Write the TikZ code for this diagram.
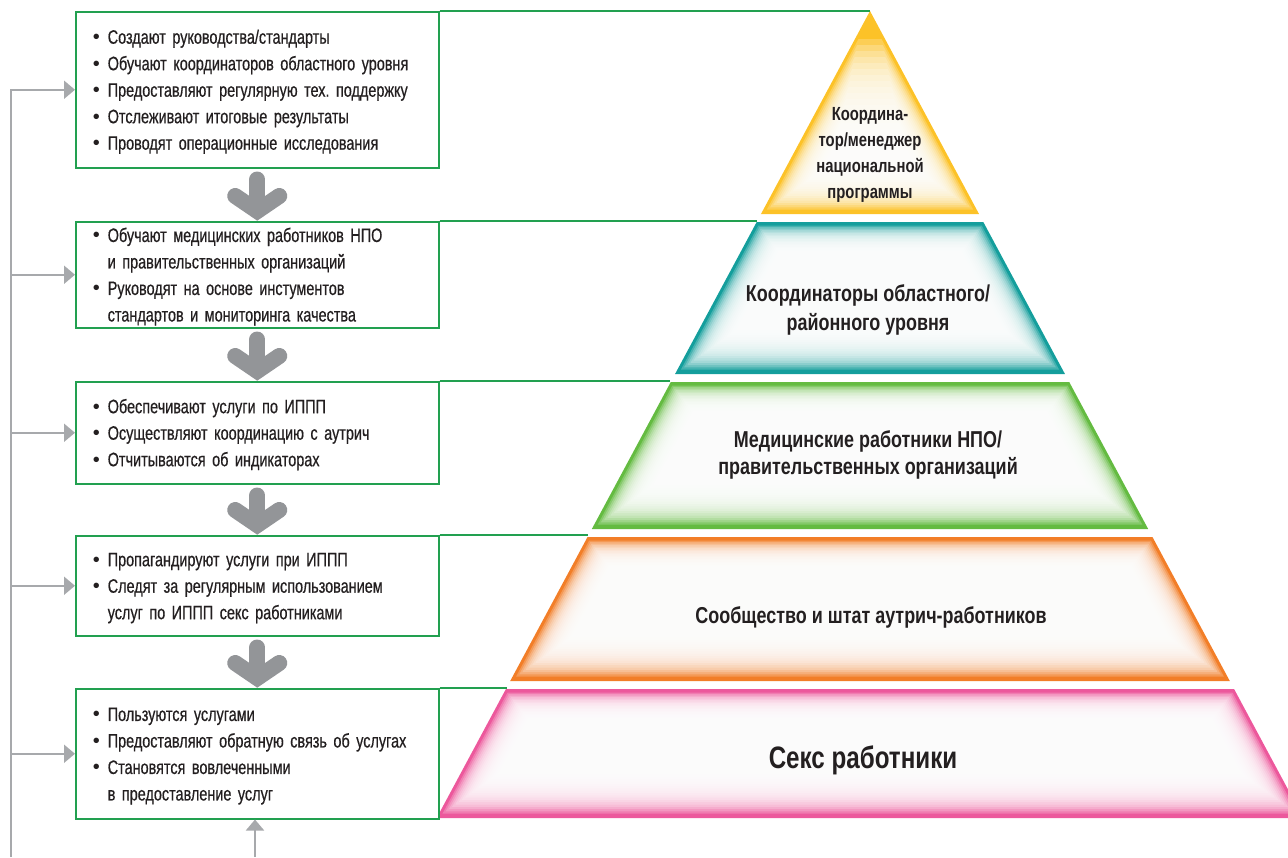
\documentclass[tikz,border=0pt]{standalone}
\usepackage{fontspec}
\setmainfont{Liberation Sans}
\newfontfamily\condr[FakeStretch=0.74,FakeBold=0.5]{Liberation Sans}
\newfontfamily\condb[FakeStretch=0.78]{Liberation Sans}
\usetikzlibrary{arrows.meta,calc}
\frenchspacing
\definecolor{yellowT}{RGB}{252,194,40}
\definecolor{tealT}{RGB}{20,158,156}
\definecolor{greenT}{RGB}{100,187,65}
\definecolor{orangeT}{RGB}{242,126,40}
\definecolor{pinkT}{RGB}{236,88,156}
\definecolor{boxgreen}{RGB}{34,160,80}
\definecolor{arrowgray}{RGB}{147,149,152}
\definecolor{linegray}{RGB}{167,169,172}
\definecolor{txt}{RGB}{35,31,32}
\newcommand\bitem[1]{\hangindent=15pt\hangafter=1\noindent\makebox[15pt][l]{{\normalfont\fontsize{20}{20}\selectfont\textbullet}}#1\par}
\newcommand\bitemf[1]{\hangindent=15pt\hangafter=1\noindent\rule{0pt}{18pt}\makebox[15pt][l]{{\normalfont\fontsize{20}{20}\selectfont\textbullet}}#1\par}
% tier: top y, bottom y, colour, top offset, top step
\newcommand\tier[5]{%
  \fill[#3] ({870-0.537*(#1-11)},#1) -- ({870+0.537*(#1-11)},#1) -- ({870+0.537*(#2-11)},#2) -- ({870-0.537*(#2-11)},#2) -- cycle;
  \foreach \i in {1,...,18}{%
    \pgfmathsetmacro\sx{1.5+2.0*\i}%
    \pgfmathsetmacro\ta{#1+#4+#5*\i}%
    \pgfmathsetmacro\bb{#2-2-2.3*\i}%
    \fill[white,opacity=0.21] ({870-0.537*(\ta-11)+\sx},\ta) -- ({870+0.537*(\ta-11)-\sx},\ta) -- ({870+0.537*(\bb-11)-\sx},\bb) -- ({870-0.537*(\bb-11)+\sx},\bb) -- cycle;
  }}
\tikzset{
  box/.style={draw=boxgreen, line width=1.5pt, fill=white, anchor=north west, inner xsep=17pt, inner ysep=0pt,
    text width=329pt, align=left, text=txt, font=\condr\fontsize{19.5}{26.5}\selectfont\frenchspacing},
  tierlabel/.style={align=center, text=txt, font=\condb\bfseries\fontsize{23}{29}\selectfont},
  gline/.style={draw=boxgreen, line width=1.5pt},
  fat/.style={draw=arrowgray, line width=16pt, line cap=round},
  fatv/.style={draw=arrowgray, line width=16pt, line cap=round, line join=miter},
  fb/.style={draw=linegray, line width=2pt, -{Triangle[length=11pt,width=18pt]}},
}
\begin{document}
\begin{tikzpicture}[x=1pt,y=-1pt]
\useasboundingbox (0,0) rectangle (1288,857);
% pyramid
\begin{scope}
\clip (0,0) rectangle (1288,857);
\tier{11}{214}{yellowT}{22}{6}
\tier{222}{374}{tealT}{2}{1.5}
\tier{382}{529}{greenT}{2}{1.5}
\tier{537}{681}{orangeT}{2}{1.5}
\tier{689}{818}{pinkT}{2}{1.5}
\end{scope}
\coordinate (p1) at (870,11);
\coordinate (p2) at (757,222);
\coordinate (p3) at (670,382);
\coordinate (p4) at (588,537);
\coordinate (p5) at (507,689);
% labels
\node[tierlabel, font=\condb\bfseries\fontsize{19}{26}\selectfont] (t1) at (870,155) {Координа-\\тор/менеджер\\национальной\\программы};
\node[tierlabel] (t2) at (868,309.5) {Координаторы областного/\\районного уровня};
\node[tierlabel, font=\condb\bfseries\fontsize{23}{27}\selectfont] (t3) at (868,454.5) {Медицинские работники НПО/\\правительственных организаций};
\node[tierlabel] (t4) at (871,617) {Сообщество и штат аутрич-работников};
\node[tierlabel, font=\condb\bfseries\fontsize{31}{34}\selectfont] (t5) at (863,760) {Секс работники};
% boxes
\node[box, minimum height=156pt] (b1) at (75,11) {%
\bitemf{Создают руководства/стандарты}
\bitem{Обучают координаторов областного уровня}
\bitem{Предоставляют регулярную тех. поддержку}
\bitem{Отслеживают итоговые результаты}
\bitem{Проводят операционные исследования}};
\node[box, minimum height=106pt] (b2) at (75,221) {%
\bitemf{Обучают медицинских работников НПО\newline и правительственных организаций}
\bitem{Руководят на основе инстументов\newline стандартов и мониторинга качества}};
\node[box, minimum height=102pt] (b3) at (75,381) {%
\bitemf{Обеспечивают услуги по ИППП}
\bitem{Осуществляют координацию с аутрич}
\bitem{Отчитываются об индикаторах}};
\node[box, minimum height=100pt] (b4) at (75,535) {%
\bitemf{Пропагандируют услуги при ИППП}
\bitem{Следят за регулярным использованием\newline услуг по ИППП секс работниками}};
\node[box, minimum height=130pt] (b5) at (75,688) {%
\bitemf{Пользуются услугами}
\bitem{Предоставляют обратную связь об услугах}
\bitem{Становятся вовлеченными\newline в предоставление услуг}};
% green lines from boxes to tiers
\draw[gline] (b1.north east) -- (p1);
\draw[gline] (b2.north east) -- (b2.north east -| p2);
\draw[gline] (b3.north east) -- (b3.north east -| p3);
\draw[gline] (b4.north east) -- (b4.north east -| p4);
\draw[gline] (b5.north east) -- (b5.north east -| p5);
% fat arrows
\foreach \u/\v in {b1/b2,b2/b3,b3/b4,b4/b5}{
  \draw[fat] let \p1=(\u.south), \p2=(\v.north) in (\x1,\y1-11pt) -- (\x1,\y2+14pt);
  \draw[fatv] let \p1=(\u.south), \p2=(\v.north) in (\x1-22pt,\y2+25pt) -- (\x1,\y2+10pt) -- (\x1+22pt,\y2+25pt);
}
% feedback lines
\coordinate (fbx) at (11,857);
\coordinate (bin) at (255,857);
\draw[fb] (fbx) |- (b1.west);
\draw[fb] (fbx |- b2.west) -- (b2.west);
\draw[fb] (fbx |- b3.west) -- (b3.west);
\draw[fb] (fbx |- b4.west) -- (b4.west);
\draw[fb] (fbx |- b5.west) -- (b5.west);
\draw[fb] (bin) -- (bin |- b5.south);
\end{tikzpicture}
\end{document}
